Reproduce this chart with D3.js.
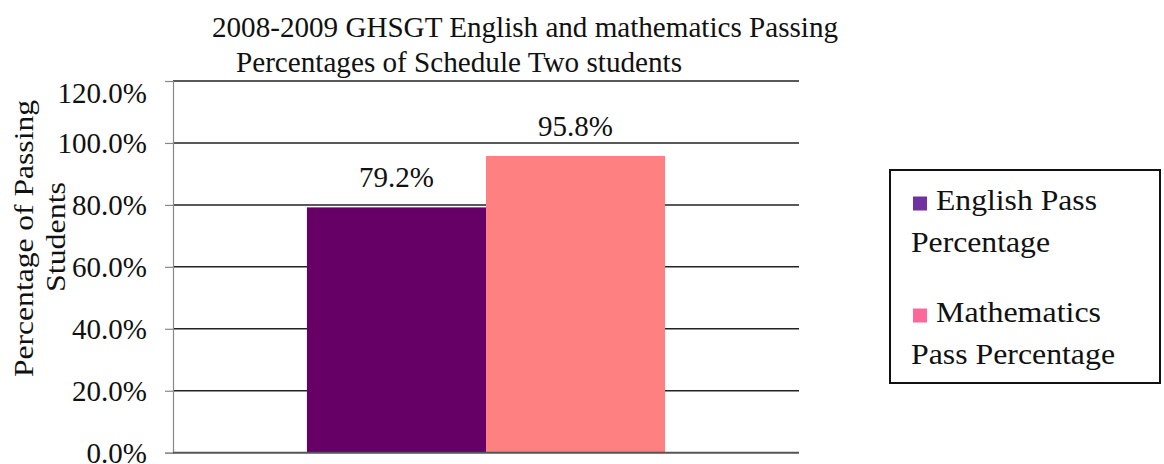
<!DOCTYPE html>
<html>
<head>
<meta charset="utf-8">
<script src="https://cdn.jsdelivr.net/npm/d3@7"></script>
<style>
  body { margin: 0; background: #fff; }
  text { font-family: "Liberation Serif", "Times New Roman", serif; fill: #111; }
</style>
</head>
<body>
<div id="chart"></div>
<script>
// chart values
const groups = ["Schedule Two"];
const series = ["English Pass Percentage", "Mathematics Pass Percentage"];
const values = [79.2, 95.8];
const barColors = ["#660066", "#ff8080"];
const swatchColors = ["#7030a0", "#ff6699"];
const yTicks = [0, 20, 40, 60, 80, 100, 120];
const titleLines = ["2008-2009 GHSGT English and mathematics Passing", "Percentages of Schedule Two students"];
const yTitleLines = ["Percentage of Passing", "Students"];
const legendLines = [["English Pass", "Percentage"], ["Mathematics", "Pass Percentage"]];

const w = 1164, h = 464;
const plotLeft = 173, plotRight = 799, plotTop = 81, plotBottom = 452.7;
const serif = '"Liberation Serif", "Times New Roman", serif';

const svg = d3.select('#chart')
  .append('svg')
  .attr('width', w)
  .attr('height', h);

const yScale = d3.scaleLinear().domain([0, 120]).range([plotBottom, plotTop]);
const x0 = d3.scaleBand().domain(groups).range([plotLeft, plotRight]).paddingOuter(0.374).paddingInner(0);
const x1 = d3.scaleBand().domain(series).range([0, x0.bandwidth()]);

// gridlines
svg.append('g')
  .selectAll('line')
  .data(yTicks.filter(d => d > 0))
  .enter()
  .append('line')
  .attr('x1', plotLeft)
  .attr('x2', plotRight)
  .attr('y1', d => yScale(d))
  .attr('y2', d => yScale(d))
  .attr('stroke', '#222')
  .attr('stroke-width', 1.5);

// y axis
const yAxis = d3.axisLeft(yScale)
  .tickValues(yTicks)
  .tickSize(8)
  .tickPadding(18)
  .tickFormat(d => d.toFixed(1) + '%');

const gy = svg.append('g')
  .attr('transform', 'translate(' + plotLeft + ',0)')
  .call(yAxis)
  .attr('font-family', serif)
  .attr('font-size', 29);
gy.select('.domain').attr('stroke', '#888').attr('stroke-width', 1.2);
gy.selectAll('.tick line').attr('stroke', '#888').attr('stroke-width', 1.2);
gy.selectAll('.tick text')
  .attr('fill', '#111')
  .attr('dy', d => d === 120 ? '0.75em' : '0.34em');

// bars
const bars = svg.append('g')
  .selectAll('g')
  .data(groups)
  .enter()
  .append('g')
  .attr('transform', d => 'translate(' + x0(d) + ',0)');

bars.selectAll('rect')
  .data(series.map((s, i) => ({ s: s, v: values[i], c: barColors[i] })))
  .enter()
  .append('rect')
  .attr('x', d => x1(d.s))
  .attr('y', d => yScale(d.v))
  .attr('width', x1.bandwidth())
  .attr('height', d => plotBottom - yScale(d.v))
  .attr('fill', d => d.c);

bars.selectAll('text')
  .data(series.map((s, i) => ({ s: s, v: values[i] })))
  .enter()
  .append('text')
  .attr('x', d => x1(d.s) + x1.bandwidth() / 2)
  .attr('y', d => yScale(d.v) - 20)
  .attr('text-anchor', 'middle')
  .style('font-size', '29px')
  .text(d => d.v.toFixed(1) + '%');

// x axis baseline
svg.append('line')
  .attr('x1', plotLeft)
  .attr('x2', plotRight)
  .attr('y1', plotBottom)
  .attr('y2', plotBottom)
  .attr('stroke', '#555')
  .attr('stroke-width', 2);

// title
svg.append('text').attr('x', 212).attr('y', 37).style('font-size', '29px')
  .attr('textLength', 626).attr('lengthAdjust', 'spacingAndGlyphs').text(titleLines[0]);
svg.append('text').attr('x', 236).attr('y', 72).style('font-size', '29px')
  .attr('textLength', 446).attr('lengthAdjust', 'spacingAndGlyphs').text(titleLines[1]);

// y axis title
svg.append('text')
  .attr('transform', 'translate(33,238.5) rotate(-90)')
  .attr('x', -138.5).attr('y', 0)
  .style('font-size', '28px')
  .attr('textLength', 277).attr('lengthAdjust', 'spacingAndGlyphs')
  .text(yTitleLines[0]);
svg.append('text')
  .attr('transform', 'translate(65,237) rotate(-90)')
  .attr('x', -55).attr('y', 0)
  .style('font-size', '28px')
  .attr('textLength', 110).attr('lengthAdjust', 'spacingAndGlyphs')
  .text(yTitleLines[1]);

// legend
const legendWidths = [[161, 139], [165, 204]];
const legend = svg.append('g');
legend.append('rect')
  .attr('x', 890).attr('y', 170)
  .attr('width', 270).attr('height', 213)
  .attr('fill', '#fff')
  .attr('stroke', '#111')
  .attr('stroke-width', 2);

const items = legend.selectAll('g.item')
  .data(series)
  .enter()
  .append('g')
  .attr('class', 'item')
  .attr('transform', (d, i) => 'translate(0,' + (i * 112) + ')');

items.append('rect')
  .attr('x', 913).attr('y', 196.5)
  .attr('width', 14).attr('height', 14)
  .attr('fill', (d, i) => swatchColors[i]);

items.append('text')
  .attr('x', 936).attr('y', 210)
  .style('font-size', '30px')
  .attr('textLength', (d, i) => legendWidths[i][0])
  .attr('lengthAdjust', 'spacingAndGlyphs')
  .text((d, i) => legendLines[i][0]);

items.append('text')
  .attr('x', 911).attr('y', 251.5)
  .style('font-size', '30px')
  .attr('textLength', (d, i) => legendWidths[i][1])
  .attr('lengthAdjust', 'spacingAndGlyphs')
  .text((d, i) => legendLines[i][1]);
</script>
</body>
</html>
